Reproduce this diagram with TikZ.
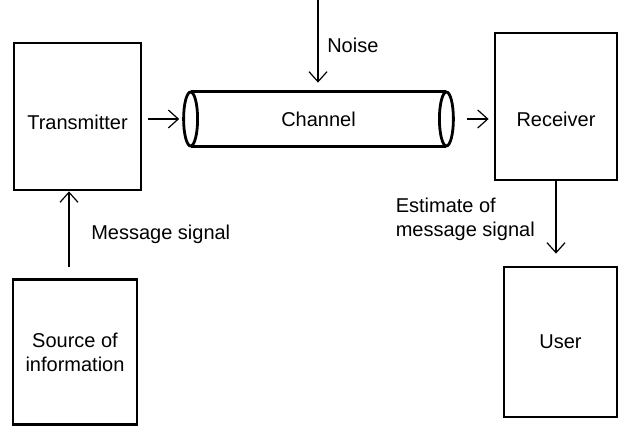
\documentclass[tikz,border=0pt]{standalone}
\usepackage{fontspec}
\setmainfont{Liberation Sans}
\usetikzlibrary{
    positioning,
    arrows.meta,
    shapes.geometric
}

\begin{document}
\begin{tikzpicture}[
    x=0.5pt, y=-0.5pt,
    blk/.style={rectangle, draw, line width=1.4pt, align=center, inner sep=2pt},
    arr/.style={line width=0.6pt, -{Straight Barb[length=5pt, width=9pt, line width=0.6pt]}},
    lbl/.style={align=left},
    tube/.style={line width=1.4pt},
    capend/.style={ellipse, draw, line width=1.4pt, minimum width=7pt, minimum height=27pt, inner sep=0pt},
]
\useasboundingbox (0,0) rectangle (619,426);

% blocks
\node[blk, minimum width=63.5pt, minimum height=73.5pt] (tx) at (77.5,116.5) {\raisebox{-3pt}[\height][\depth]{Transmitter}};
\node[blk, minimum width=62pt, minimum height=72.5pt] (src) at (75,352) {Source of\\information};
\node[blk, minimum width=61pt, minimum height=73.5pt] (rx) at (556,106.5) {\raisebox{-6.5pt}[\height][\depth]{Receiver}};
\node[blk, minimum width=56.5pt, minimum height=75pt] (usr) at (560.5,342) {User};

% channel tube
\node[minimum width=127.5pt, minimum height=27pt, inner sep=0pt] (ch) at (318.5,119) {Channel};
\draw[tube] (ch.north west) -- (ch.north east);
\draw[tube] (ch.south west) -- (ch.south east);
\node[capend, fill=white] (chL) at (ch.west) {};
\node[capend, fill=white] (chR) at (ch.east) {};
\coordinate (noisein) at (318,0);

% connectors
\draw[arr, shorten <=3pt, shorten >=1.5pt] (tx.east |- ch.center) -- (chL.west);
\draw[arr, shorten >=4.5pt] (noisein) -- node[right, lbl, xshift=1pt] {Noise} (noisein |- ch.north);
\draw[arr, shorten <=6pt, shorten >=2.5pt] (chR.east) -- (rx.west |- chR.east);
\draw[arr, shorten >=6pt] (rx.south) -- node[left, lbl, xshift=-7pt, yshift=2pt] {Estimate of\\message signal} (rx.south |- usr.north);
\draw[arr, shorten <=5.5pt] ([xshift=-3pt]src.north) -- node[right, lbl, xshift=7.5pt] {Message signal} ([xshift=-3pt]src.north |- tx.south);
\end{tikzpicture}
\end{document}
